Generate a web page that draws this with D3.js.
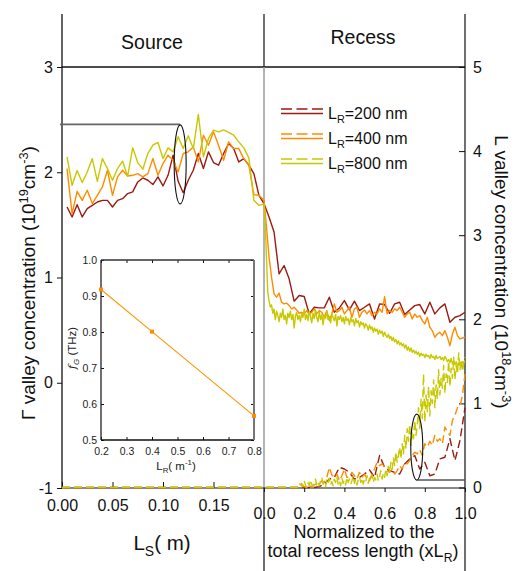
<!DOCTYPE html>
<html><head><meta charset="utf-8">
<script src="https://cdn.jsdelivr.net/npm/d3@7"></script>
<style>body{margin:0;background:#fff}svg{display:block}</style>
</head><body>
<svg id="c" width="515" height="571"></svg>
<script>
// ---------- DATA ----------
const seriesLabels = ["200 nm", "400 nm", "800 nm"];
const gammaTicks = [3, 2, 1, 0, -1];
const lTicks = [0, 1, 2, 3, 4, 5];
const sourceTicks = [0, 0.05, 0.10, 0.15];
const recessTicks = [0, 0.2, 0.4, 0.6, 0.8, 1.0];
const sourceStep = 0.005; // µm grid of source samples (first sample at 0.005)

// Γ valley concentration in source (10^19 cm^-3)
const srcG200 = [1.670,1.575,1.692,1.575,1.654,1.686,1.717,1.733,1.733,1.670,1.733,1.749,1.797,1.813,1.908,1.946,1.924,1.883,1.956,1.870,1.971,2.162,1.914,1.806,1.924,2.019,2.178,2.035,2.194,2.092,2.067,2.178,2.273,2.225,2.098,2.130,2.067,1.987,1.781];
const srcG400 = [2.035,1.606,1.819,1.733,1.829,1.702,1.781,1.860,2.019,1.781,1.956,2.019,1.965,1.971,1.987,1.956,1.987,2.130,1.971,2.083,2.162,2.114,2.003,2.178,2.194,2.241,2.098,2.352,2.257,2.384,2.257,2.114,2.289,2.225,2.225,2.130,2.067,1.787,1.781];
const srcG800 = [2.146,1.876,2.016,1.902,2.003,2.130,1.914,2.130,2.035,1.924,2.035,2.105,1.962,2.232,2.092,2.029,2.178,2.257,2.283,2.130,2.232,2.194,2.337,2.225,2.346,2.225,2.549,2.146,2.321,2.400,2.384,2.403,2.378,2.352,2.289,2.232,2.137,1.733,1.686];

// L valley concentration in source (10^18 cm^-3), at source start / end
const srcLX = [0, 0.195];
const srcL200 = [0, 0];
const srcL400 = [0, 0];
const srcL800 = [0, 0];

// Γ valley concentration in recess (normalized position, evenly sampled 0..1)
const recG200 = [1.702,1.575,1.432,1.035,1.114,0.987,0.775,0.829,0.819,0.654,0.717,0.711,0.711,0.813,0.670,0.711,0.781,0.692,0.775,0.686,0.717,0.749,0.606,0.749,0.743,0.660,0.749,0.765,0.648,0.692,0.733,0.743,0.654,0.765,0.654,0.711,0.749,0.575,0.622,0.638,0.670];
const recG400 = [1.733,1.479,1.194,1.003,0.844,0.813,0.851,0.765,0.749,0.756,
0.733,0.702,0.717,0.692,0.660,0.670,0.654,0.686,0.648,0.670,
0.702,0.654,0.686,0.670,0.622,0.686,0.590,0.654,0.749,0.670,
0.686,0.717,0.654,0.686,0.717,0.622,0.702,0.717,0.622,0.670,
0.692,0.654,0.686,0.638,0.670,0.654,0.702,0.670,0.819,0.654,
0.686,0.670,0.702,0.686,0.717,0.670,0.622,0.654,0.670,0.606,
0.654,0.622,0.638,0.590,0.559,0.622,0.527,0.495,0.432,0.463,
0.479,0.448,0.495,0.432,0.352,0.463,0.527,0.448,0.416,0.425,0.432];
const recG800 = [1.70,1.52,1.18,0.86,0.78,0.72,0.74,0.66,0.70,0.60,
0.68,0.64,0.58,0.66,0.62,0.70,0.60,0.64,0.56,0.66,
0.62,0.68,0.60,0.65,0.52,0.63,0.67,0.60,0.64,0.58,
0.66,0.62,0.70,0.60,0.65,0.59,0.68,0.63,0.57,0.66,
0.61,0.69,0.62,0.58,0.67,0.60,0.65,0.55,0.64,0.61,
0.68,0.60,0.63,0.57,0.66,0.62,0.59,0.65,0.54,0.63,
0.60,0.64,0.58,0.62,0.56,0.63,0.59,0.61,0.55,0.62,
0.58,0.60,0.54,0.61,0.57,0.59,0.53,0.58,0.55,0.57,
0.52,0.56,0.54,0.50,0.55,0.51,0.53,0.48,0.52,0.49,
0.51,0.46,0.50,0.47,0.49,0.44,0.48,0.45,0.43,0.46,
0.42,0.44,0.40,0.43,0.39,0.41,0.37,0.40,0.36,0.38,
0.35,0.37,0.33,0.36,0.31,0.34,0.30,0.33,0.29,0.31,
0.28,0.30,0.27,0.29,0.25,0.28,0.26,0.27,0.24,0.27,
0.25,0.26,0.23,0.27,0.24,0.25,0.22,0.26,0.23,0.24,
0.25,0.22,0.24,0.21,0.25,0.23,0.20,0.22,0.19,0.23,
0.18,0.21,0.17,0.20,0.16,0.19,0.18,0.15,0.20,0.19,0.21];

// L valley concentration in recess (10^18 cm^-3)
const recL200 = [0,0,0,0,0,0,0,0,0,0,0,0.01,0.04,0.10,0.12,0.24,0.22,0.18,0.10,0.12,0.16,0.21,0.12,0.38,0.24,0.20,0.18,0.16,0.28,0.34,0.38,0.22,0.30,0.14,0.16,0.34,0.36,0.58,0.32,0.56,0.95];
const recL400 = [0,0,0,0,0,0,0,0,0,0,0,0,0,0,
0.05,0.02,0.01,0.0,0.02,0.01,0.03,0.05,0.04,0.08,0.06,0.12,
0.24,0.15,0.12,0.16,0.08,0.14,0.22,0.12,0.12,0.18,
0.14,0.10,0.18,0.12,0.16,0.10,0.08,0.16,0.22,0.30,
0.26,0.28,0.24,0.20,0.18,0.22,0.16,0.20,0.26,0.22,
0.30,0.28,0.32,0.38,0.42,0.40,0.45,0.38,0.52,0.48,
0.55,0.50,0.62,0.55,0.58,0.52,0.72,0.66,0.62,0.80,
0.86,0.95,0.96,1.10,1.35];
const recL800 = [0,0,0,0,0,0,0,0,0,0,0,0,0,0,0,0,0,0,0,0,0,0,0,0,0,0,0,0,0,
0.02,0.05,0.01,0.08,0.03,0.0,0.06,0.02,0.09,0.04,0.01,
0.05,0.10,0.03,0.07,0.02,0.08,0.12,0.04,0.06,0.01,
0.09,0.05,0.11,0.03,0.07,0.02,0.10,0.06,0.13,0.04,
0.08,0.02,0.11,0.05,0.09,0.03,0.12,0.06,0.10,0.04,
0.08,0.14,0.05,0.10,0.03,0.09,0.13,0.06,0.11,0.04,
0.10,0.07,0.14,0.05,0.11,0.08,0.15,0.06,0.12,0.09,
0.16,0.08,0.13,0.20,0.10,0.17,0.12,0.22,0.14,0.25,
0.18,0.30,0.22,0.35,0.26,0.42,0.30,0.38,0.48,0.34,
0.52,0.40,0.62,0.46,0.70,0.55,0.75,0.50,0.66,0.58,
0.80,0.62,0.74,0.95,0.70,1.05,0.82,1.35,0.78,1.10,
0.90,1.20,0.85,1.15,1.00,1.28,0.95,1.22,1.05,1.40,
1.10,1.30,1.18,1.45,1.12,1.35,1.25,1.50,1.20,1.42,
1.30,1.55,1.28,1.45,1.35,1.60,1.40,1.52,1.38,1.48,1.55];

// Inset: resonance frequency vs recess length
const insetLR = [0.2, 0.4, 0.8];
const insetFG = [0.918, 0.801, 0.567];
const insetXTicks = [0.2, 0.3, 0.4, 0.5, 0.6, 0.7, 0.8];
const insetYTicks = [0.5, 0.6, 0.7, 0.8, 0.9, 1.0];

// ---------- STYLE ----------
const FONT = "'Liberation Sans', Arial, Helvetica, sans-serif";
const COLORS = ["#9a1b12", "#ff8c00", "#c8c800"];

const svg = d3.select("#c").style("font-family", FONT);

const xS = d3.scaleLinear().domain([0, 0.2]).range([62, 264]);
const xR = d3.scaleLinear().domain([0, 1]).range([264, 465]);
const yG = d3.scaleLinear().domain([-1, 3]).range([488, 67]);
const yL = d3.scaleLinear().domain([0, 5]).range([487.5, 67]);

const hyphenInt = d => String(d); // plain ASCII hyphen for negatives

function richText(sel, parts, size) {
  parts.forEach(p => {
    const t = sel.append("tspan").text(p.t);
    if (p.sub) t.attr("font-size", size * 0.68).attr("dy", size * 0.28);
    else if (p.sup) t.attr("font-size", size * 0.68).attr("dy", -size * (p.up || 0.42));
    if (p.back) t.attr("dy", p.back);
    if (p.style) t.attr("font-style", p.style);
    if (p.family) t.attr("font-family", p.family);
  });
}

// ---------- frame ----------
const frame = svg.append("g").attr("fill", "none");
frame.append("line").attr("x1", 62).attr("x2", 62).attr("y1", 14).attr("y2", 488).attr("stroke", "#111").attr("stroke-width", 1.3);
frame.append("line").attr("x1", 465).attr("x2", 465).attr("y1", 14).attr("y2", 571).attr("stroke", "#333").attr("stroke-width", 1.4);
frame.append("line").attr("x1", 62).attr("x2", 465).attr("y1", yG(3)).attr("y2", yG(3)).attr("stroke", "#111").attr("stroke-width", 1.3);
frame.append("line").attr("x1", 264).attr("x2", 264).attr("y1", 14).attr("y2", 67).attr("stroke", "#111").attr("stroke-width", 1.2);
frame.append("line").attr("x1", 264).attr("x2", 264).attr("y1", 67).attr("y2", 488).attr("stroke", "#9a9a9a").attr("stroke-width", 1.5);

// header text
svg.append("text").attr("x", 152).attr("y", 49).attr("text-anchor", "middle").attr("font-size", 19.5).attr("fill", "#111").text("Source");
svg.append("text").attr("x", 363).attr("y", 44).attr("text-anchor", "middle").attr("font-size", 19.5).attr("fill", "#111").text("Recess");

// ---------- axes ----------
const tickStyle = g => { g.select(".domain").remove(); g.selectAll("text").attr("font-family", FONT).attr("fill", "#111"); g.selectAll("line").attr("stroke", "#111"); };

svg.append("g").attr("transform", "translate(62,0)")
  .call(d3.axisLeft(yG).tickValues(gammaTicks).tickSize(5).tickPadding(4).tickFormat(hyphenInt))
  .call(tickStyle).selectAll("text").attr("font-size", 16);

svg.append("g").attr("transform", "translate(465,0)")
  .call(d3.axisRight(yL).tickValues(lTicks).tickSize(-6).tickPadding(8).tickFormat(hyphenInt))
  .call(tickStyle).selectAll("text").attr("font-size", 16);

svg.append("g").attr("transform", "translate(0,488)")
  .call(d3.axisBottom(xS).tickValues(sourceTicks).tickSize(-6).tickPadding(12).tickFormat(d3.format(".2f")))
  .call(tickStyle).selectAll("text").attr("font-size", 16);

const gR = svg.append("g").attr("transform", "translate(0,488)")
  .call(d3.axisBottom(xR).tickValues(recessTicks).tickSize(4).tickPadding(15.5).tickFormat(d3.format(".1f")))
  .call(tickStyle);
gR.selectAll("text").attr("font-size", 16);

// ---------- data lines ----------
const line = d3.line().x(d => d[0]).y(d => d[1]);
const srcG = [srcG200, srcG400, srcG800];
const recG = [recG200, recG400, recG800];
const srcL = [srcL200, srcL400, srcL800];
const recL = [recL200, recL400, recL800];

const plot = svg.append("g").attr("fill", "none").attr("stroke-linejoin", "round");
[0, 1, 2].forEach(k => {
  const pts = srcG[k].map((v, i) => [xS(sourceStep * (i + 1)), yG(v)])
    .concat(recG[k].map((v, i, a) => [xR(i / (a.length - 1)), yG(v)]));
  plot.append("path").attr("d", line(pts)).attr("stroke", COLORS[k]).attr("stroke-width", 1.4);
});
[0, 1, 2].forEach(k => {
  const pts = srcL[k].map((v, i) => [xS(srcLX[i]), yL(v)])
    .concat(recL[k].map((v, i, a) => [xR(i / (a.length - 1)), yL(v)]));
  plot.append("path").attr("d", line(pts)).attr("stroke", COLORS[k]).attr("stroke-width", 1.4).attr("stroke-dasharray", "8,4");
});

// bottom axis line and divider below axis
frame.append("line").attr("x1", 62).attr("x2", 465).attr("y1", 488).attr("y2", 488).attr("stroke", "#111").attr("stroke-width", 1.2);
svg.append("line").attr("x1", 264).attr("x2", 264).attr("y1", 488).attr("y2", 571).attr("stroke", "#222").attr("stroke-width", 1.3);

// ---------- annotations ----------
const ann = svg.append("g").attr("fill", "none");
ann.append("line").attr("x1", 60).attr("x2", xS(0.117)).attr("y1", yG(2.455)).attr("y2", yG(2.455)).attr("stroke", "#666").attr("stroke-width", 1.6);
ann.append("ellipse").attr("cx", xS(0.117)).attr("cy", yG(2.075)).attr("rx", 6).attr("ry", 39.5).attr("stroke", "#111").attr("stroke-width", 1.1);
ann.append("ellipse").attr("cx", xR(0.76)).attr("cy", yL(0.48)).attr("rx", 6).attr("ry", 33).attr("stroke", "#111").attr("stroke-width", 1.1);
ann.append("line").attr("x1", xR(0.76)).attr("x2", 465).attr("y1", yL(0.09)).attr("y2", yL(0.09)).attr("stroke", "#555").attr("stroke-width", 1.4);

// ---------- legend ----------
const leg = svg.append("g");
seriesLabels.forEach((lab, k) => {
  const by = 119 + k * 25;
  leg.append("line").attr("x1", 281).attr("x2", 323).attr("y1", by - 10).attr("y2", by - 10)
    .attr("stroke", COLORS[k]).attr("stroke-width", 1.4).attr("stroke-dasharray", "11,4.5");
  leg.append("line").attr("x1", 281).attr("x2", 323).attr("y1", by - 5.5).attr("y2", by - 5.5)
    .attr("stroke", COLORS[k]).attr("stroke-width", 1.4);
  const t = leg.append("text").attr("x", 328).attr("y", by).attr("font-size", 16).attr("fill", "#111");
  richText(t, [{t: "L"}, {t: "R", sub: true}, {t: "=" + lab, back: -16 * 0.28}], 16);
});

// ---------- axis titles ----------
const TS = 19;
const tl = svg.append("text").attr("transform", "translate(35,283) rotate(-90)").attr("text-anchor", "middle").attr("font-size", TS).attr("fill", "#111");
richText(tl, [{t: "\u0393 valley concentration (10"}, {t: "19", sup: true, up: 0.36}, {t: "cm", back: TS * 0.36}, {t: "-3", sup: true, up: 0.36}, {t: ")", back: TS * 0.36}], TS);

const tr = svg.append("text").attr("transform", "translate(495,272) rotate(90)").attr("text-anchor", "middle").attr("font-size", TS).attr("fill", "#111");
richText(tr, [{t: "L valley concentration (10"}, {t: "18", sup: true, up: 0.36}, {t: "cm", back: TS * 0.36}, {t: "-3", sup: true, up: 0.36}, {t: ")", back: TS * 0.36}], TS);

const tb = svg.append("text").attr("x", 162).attr("y", 550).attr("text-anchor", "middle").attr("font-size", 20.5).attr("fill", "#111");
richText(tb, [{t: "L"}, {t: "S", sub: true}, {t: "( m)", back: -20.5 * 0.28}], 20.5);

svg.append("text").attr("x", 364).attr("y", 538).attr("text-anchor", "middle").attr("font-size", 18).attr("fill", "#111").text("Normalized to the");
const tb2 = svg.append("text").attr("x", 363).attr("y", 557).attr("text-anchor", "middle").attr("font-size", 18).attr("fill", "#111");
richText(tb2, [{t: "total recess length (xL"}, {t: "R", sub: true}, {t: ")", back: -18 * 0.28}], 18);

// ---------- inset ----------
const xI = d3.scaleLinear().domain([0.2, 0.8]).range([101, 254]);
const yI = d3.scaleLinear().domain([0.5, 1.0]).range([440, 260]);
const ins = svg.append("g");
const insTick = g => { g.select(".domain").remove(); g.selectAll("line").attr("stroke", "#111"); g.selectAll("text").attr("font-family", FONT).attr("font-size", 10.5).attr("fill", "#222"); };
ins.append("g").attr("transform", "translate(101,0)").call(d3.axisLeft(yI).tickValues(insetYTicks).tickSize(-3).tickPadding(4).tickFormat(d3.format(".1f"))).call(insTick);
ins.append("g").attr("transform", "translate(0,440)").call(d3.axisBottom(xI).tickValues(insetXTicks).tickSize(-3).tickPadding(8).tickFormat(d3.format(".1f"))).call(insTick);
ins.append("g").attr("transform", "translate(0,260)").call(d3.axisTop(xI).tickValues(insetXTicks).tickSize(-3).tickFormat("")).call(insTick);
ins.append("g").attr("transform", "translate(254,0)").call(d3.axisRight(yI).tickValues(insetYTicks).tickSize(-3).tickFormat("")).call(insTick);
ins.append("line").attr("x1", 101).attr("x2", 101).attr("y1", 260).attr("y2", 440).attr("stroke", "#222").attr("stroke-width", 1.3);
ins.append("line").attr("x1", 101).attr("x2", 254).attr("y1", 440).attr("y2", 440).attr("stroke", "#111").attr("stroke-width", 1.3);
ins.append("line").attr("x1", 101).attr("x2", 254).attr("y1", 260).attr("y2", 260).attr("stroke", "#333").attr("stroke-width", 1.3);
ins.append("line").attr("x1", 254).attr("x2", 254).attr("y1", 260).attr("y2", 440).attr("stroke", "#777").attr("stroke-width", 2);

const ipts = insetLR.map((v, i) => [xI(v), yI(insetFG[i])]);
ins.append("path").attr("d", line(ipts)).attr("fill", "none").attr("stroke", "#ff9500").attr("stroke-width", 1.1);
ins.selectAll("rect.m").data(ipts).enter().append("rect").attr("class", "m")
  .attr("x", d => d[0] - 2).attr("y", d => d[1] - 2).attr("width", 4).attr("height", 4).attr("fill", "#ff8c00");

const ixl = ins.append("text").attr("x", 176).attr("y", 470).attr("text-anchor", "middle").attr("font-size", 11.5).attr("fill", "#222");
richText(ixl, [{t: "L"}, {t: "R", sub: true}, {t: "( m", back: -11.5 * 0.28}, {t: "-1", sup: true}, {t: ")", back: 11.5 * 0.42}], 11.5);

const iyl = ins.append("text").attr("transform", "translate(76,348) rotate(-90)").attr("text-anchor", "middle").attr("font-size", 11.5).attr("fill", "#222");
richText(iyl, [{t: "f", style: "italic", family: "'DejaVu Serif', serif"}, {t: "G", sub: true, style: "italic"}, {t: " (THz)", back: -11.5 * 0.28}], 11.5);
</script>
</body></html>
